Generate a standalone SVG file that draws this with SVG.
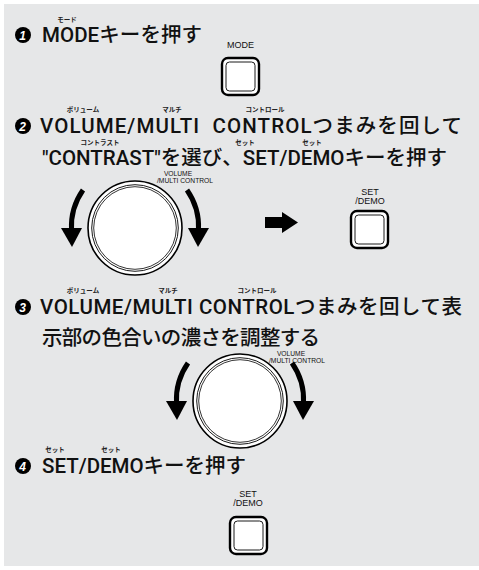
<svg xmlns="http://www.w3.org/2000/svg" xmlns:xlink="http://www.w3.org/1999/xlink" width="479" height="570" viewBox="0 0 479 570">
<style>
.h{font-family:Roboto,"Noto Sans CJK JP",sans-serif;font-size:20.5px;font-weight:500;fill:#111}
.r{font-family:"Noto Sans CJK JP",sans-serif;font-size:6.5px;font-weight:bold;fill:#222;text-anchor:middle}
.lb{font-family:"Liberation Sans",sans-serif;font-size:9px;fill:#111;text-anchor:middle}
.kl{font-family:"Liberation Sans",sans-serif;font-size:6.7px;fill:#111;text-anchor:middle}
.num{font-family:"Liberation Sans",sans-serif;font-size:12px;font-weight:bold;font-style:italic;fill:#fff;text-anchor:middle}
.bo{fill:#fff;stroke:#000;stroke-width:2.4}
.bi{fill:#fff;stroke:#000;stroke-width:0.9}
</style>
<defs>
<g id="btn">
<rect class="bo" x="0" y="0" width="37" height="37" rx="6"/>
<rect class="bi" x="4" y="4" width="29" height="29" rx="3.5"/>
</g>
<g id="knob">
<circle r="47" fill="#fff" stroke="#000" stroke-width="1.6"/>
<circle r="43.3" fill="none" stroke="#000" stroke-width="0.9"/>
<circle r="41.3" fill="none" stroke="#000" stroke-width="0.8"/>
</g>
<g id="carrow">
<path d="M -52 -38 A 64 64 0 0 0 -63.5 2" fill="none" stroke="#000" stroke-width="5"/>
<polygon points="-74,0 -53,0 -63,19" fill="#000"/>
</g>
</defs>
<rect x="4" y="4" width="475" height="562" fill="#e6e7e8"/>

<g id="step1">
<circle cx="23" cy="35" r="8" fill="#000"/><text class="num" x="22.5" y="39.5">1</text>
<text class="r" x="67" y="22">モード</text>
<text class="h" x="42" y="42" textLength="160" lengthAdjust="spacing">MODEキーを押す</text>
</g>
<g id="mode-key">
<text class="lb" x="240.5" y="48">MODE</text>
<use xlink:href="#btn" x="222" y="58"/>
</g>

<g id="step2">
<circle cx="23" cy="126" r="8" fill="#000"/><text class="num" x="22.5" y="130.5">2</text>
<text class="r" x="83" y="112">ボリューム</text>
<text class="r" x="172" y="112">マルチ</text>
<text class="r" x="265" y="112">コントロール</text>
<text class="h" x="40" y="133" textLength="422" lengthAdjust="spacing" style="white-space:pre">VOLUME/MULTI  CONTROLつまみを回して</text>
<text class="r" x="100" y="145">コントラスト</text>
<text class="r" x="245" y="145">セット</text>
<text class="r" x="312" y="145">セット</text>
<text class="h" x="42" y="165">"CONTRAST"を選び、SET/DEMOキーを押す</text>
</g>
<g id="knob1">
<text class="kl" x="178" y="175.5">VOLUME</text>
<text class="kl" x="185" y="182.5">/MULTI CONTROL</text>
<use xlink:href="#knob" x="135" y="228"/>
</g>
<g id="set-key1">
<text class="lb" x="370" y="195">SET</text>
<text class="lb" x="370" y="204">/DEMO</text>
<use xlink:href="#btn" x="351" y="211"/>
</g>

<g id="step3">
<circle cx="23" cy="307" r="8" fill="#000"/><text class="num" x="22.5" y="311.5">3</text>
<text class="r" x="83" y="293">ボリューム</text>
<text class="r" x="168" y="293">マルチ</text>
<text class="r" x="257" y="293">コントロール</text>
<text class="h" x="40" y="314" textLength="422" lengthAdjust="spacing">VOLUME/MULTI CONTROLつまみを回して表</text>
<text class="h" x="42" y="345" textLength="278" lengthAdjust="spacing">示部の色合いの濃さを調整する</text>
</g>
<g id="knob2">
<text class="kl" x="291" y="356">VOLUME</text>
<text class="kl" x="297" y="363">/MULTI CONTROL</text>
<use xlink:href="#knob" x="240" y="401"/>
</g>

<g id="step4">
<circle cx="23" cy="466" r="8" fill="#000"/><text class="num" x="22.5" y="470.5">4</text>
<text class="r" x="55" y="452">セット</text>
<text class="r" x="111" y="452">セット</text>
<text class="h" x="42" y="473" textLength="204" lengthAdjust="spacing">SET/DEMOキーを押す</text>
</g>
<g id="set-key2">
<text class="lb" x="248" y="497">SET</text>
<text class="lb" x="248" y="506">/DEMO</text>
<use xlink:href="#btn" x="230" y="517"/>
</g>

<g id="connectors">
<use xlink:href="#carrow" x="135" y="228"/>
<use xlink:href="#carrow" transform="translate(135,228) scale(-1,1)"/>
<polygon points="265,217 282,217 282,212 298,222.5 282,233 282,228 265,228" fill="#000"/>
<use xlink:href="#carrow" x="240" y="401"/>
<use xlink:href="#carrow" transform="translate(240,401) scale(-1,1)"/>
</g>
</svg>
